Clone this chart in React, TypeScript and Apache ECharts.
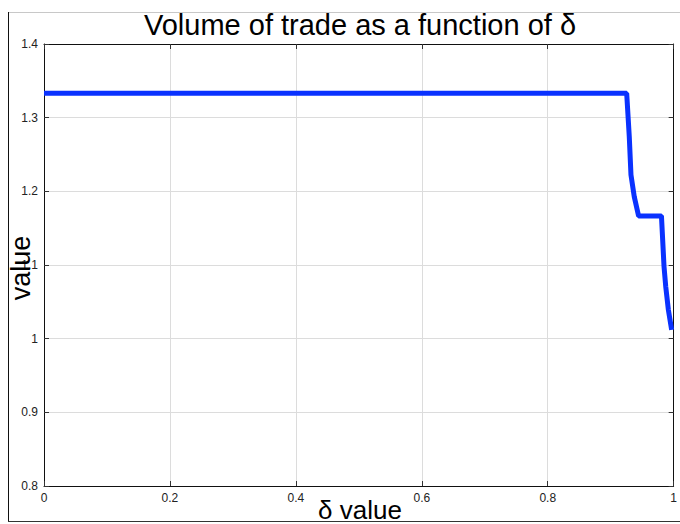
import React, { useEffect, useRef } from "react";
import * as echarts from "echarts";

const deltaValues = [0, 0.9254, 0.9295, 0.9322, 0.9374, 0.9443, 0.9806, 0.9847, 0.9874, 0.9916, 0.9968];
const tradeVolume = [1.3333, 1.3331, 1.2742, 1.2222, 1.1928, 1.1666, 1.1666, 1.0978, 1.0707, 1.0391, 1.0119];

const titleText = "Volume of trade as a function of δ";
const xLabel = "δ value";
const yLabel = "value";

const FONT = "'Liberation Sans', Arial, Helvetica, sans-serif";

export default function App() {
  const ref = useRef<HTMLDivElement>(null);
  useEffect(() => {
    if (!ref.current) return;
    const chart = echarts.init(ref.current, null, { renderer: "svg" });
    const data = deltaValues.map((x, i) => [x, tradeVolume[i]]);
    const axisLine = { show: true, onZero: false, lineStyle: { color: "#111", width: 1 } };
    const tick = { show: true, inside: true, length: 5, lineStyle: { color: "#333" } };
    chart.setOption({
      animation: false,
      backgroundColor: "#fff",
      textStyle: { fontFamily: FONT },
      grid: { left: 44, width: 634, top: 44, height: 442, containLabel: false },
      xAxis: [
        {
          type: "value", min: 0, max: 1, interval: 0.2, position: "bottom",
          axisLine, axisTick: tick,
          axisLabel: { color: "#222", fontSize: 12, margin: 6, fontFamily: FONT },
          splitLine: { show: true, lineStyle: { color: "#dcdcdc", width: 1 } },
        },
        {
          type: "value", min: 0, max: 1, interval: 0.2, position: "top",
          axisLine, axisTick: tick, axisLabel: { show: false }, splitLine: { show: false },
        },
      ],
      yAxis: [
        {
          type: "value", min: 0.8, max: 1.4, interval: 0.1, position: "left",
          axisLine, axisTick: tick,
          axisLabel: { color: "#222", fontSize: 12, margin: 6, fontFamily: FONT },
          splitLine: { show: true, lineStyle: { color: "#dcdcdc", width: 1 } },
        },
        {
          type: "value", min: 0.8, max: 1.4, interval: 0.1, position: "right",
          axisLine, axisTick: tick, axisLabel: { show: false }, splitLine: { show: false },
        },
      ],
      series: [
        {
          type: "line", xAxisIndex: 0, yAxisIndex: 0, data,
          showSymbol: false, symbol: "none", clip: false,
          lineStyle: { color: "#0a32ff", width: 5 },
        },
      ],
      graphic: [
        { type: "line", shape: { x1: 8, y1: 12.5, x2: 680, y2: 12.5 }, style: { stroke: "#c8c8c8", lineWidth: 1 }, z: 10 },
        { type: "line", shape: { x1: 8.5, y1: 12, x2: 8.5, y2: 521 }, style: { stroke: "#111", lineWidth: 1 }, z: 10 },
        { type: "line", shape: { x1: 8, y1: 521.5, x2: 680, y2: 521.5 }, style: { stroke: "#333", lineWidth: 1 }, z: 10 },
        {
          type: "text", x: 360, y: 25, z: 20,
          style: { text: titleText, fontSize: 29, fontFamily: FONT, fill: "#000", textAlign: "center", textVerticalAlign: "middle" },
        },
        {
          type: "text", x: 360, y: 510, z: 20,
          style: { text: xLabel, fontSize: 26, fontFamily: FONT, fill: "#000", textAlign: "center", textVerticalAlign: "middle" },
        },
        {
          type: "text", x: 21, y: 268, rotation: Math.PI / 2, z: 20,
          style: { text: yLabel, fontSize: 27, fontFamily: FONT, fill: "#000", textAlign: "center", textVerticalAlign: "middle" },
        },
      ],
    });
    return () => chart.dispose();
  }, []);
  return (
    <div
      ref={ref}
      style={{ position: "fixed", left: 0, top: 0, width: 680, height: 524 }}
    />
  );
}
